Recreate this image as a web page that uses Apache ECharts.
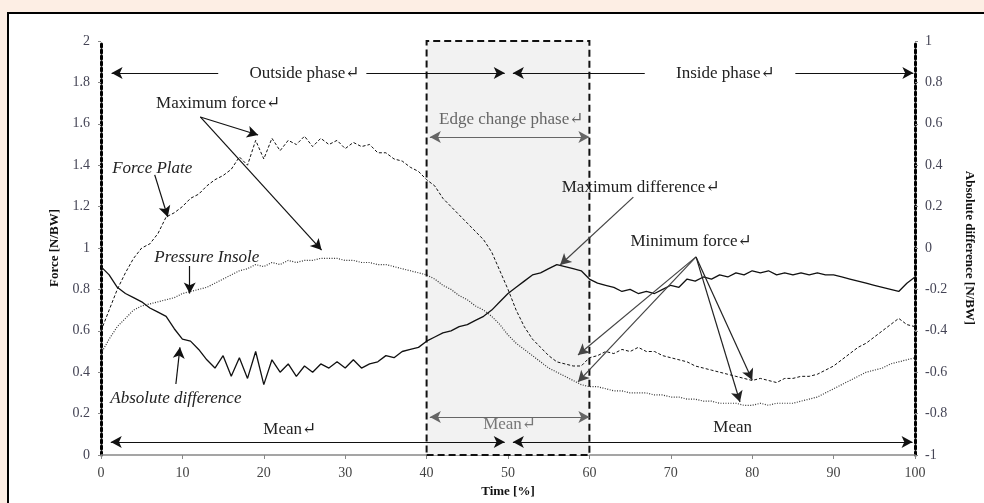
<!DOCTYPE html>
<html><head><meta charset="utf-8">
<script src="https://cdn.jsdelivr.net/npm/echarts@6/dist/echarts.min.js"></script>
<style>html,body{margin:0;padding:0;background:#fdeee4;}#c{width:984px;height:503px;}</style>
</head><body><div id="c"></div>
<script>
// time in % (categories of the x axis)
const time = Array.from({length:101},(_,i)=>i);

// Force Plate [N/BW] (left axis)
const forcePlate = [
 0.60,0.70,0.80,0.88,0.95,1.00,1.02,1.07,1.15,1.17,
 1.20,1.24,1.26,1.30,1.33,1.35,1.38,1.44,1.40,1.52,
 1.43,1.53,1.47,1.52,1.50,1.54,1.49,1.53,1.50,1.52,
 1.48,1.51,1.49,1.50,1.46,1.46,1.43,1.42,1.39,1.37,
 1.33,1.30,1.24,1.20,1.16,1.12,1.08,1.04,0.98,0.89,
 0.80,0.70,0.62,0.56,0.52,0.48,0.45,0.44,0.43,0.43,
 0.47,0.48,0.50,0.49,0.51,0.50,0.52,0.50,0.50,0.48,
 0.47,0.46,0.45,0.43,0.42,0.41,0.40,0.39,0.38,0.37,
 0.36,0.37,0.36,0.35,0.37,0.37,0.38,0.38,0.39,0.41,
 0.43,0.46,0.49,0.52,0.54,0.57,0.60,0.63,0.66,0.63,
 0.62];

// Pressure Insole [N/BW] (left axis)
const pressureInsole = [
 0.49,0.56,0.62,0.66,0.70,0.72,0.73,0.74,0.75,0.76,
 0.78,0.79,0.80,0.81,0.83,0.85,0.87,0.89,0.90,0.92,
 0.91,0.93,0.92,0.94,0.93,0.94,0.94,0.95,0.95,0.95,
 0.94,0.94,0.93,0.93,0.92,0.92,0.91,0.90,0.89,0.88,
 0.87,0.85,0.82,0.80,0.77,0.75,0.72,0.70,0.67,0.63,
 0.58,0.54,0.51,0.48,0.45,0.42,0.40,0.38,0.36,0.34,
 0.33,0.33,0.32,0.31,0.31,0.30,0.30,0.30,0.29,0.29,
 0.28,0.28,0.27,0.27,0.26,0.26,0.25,0.25,0.25,0.24,
 0.24,0.25,0.24,0.25,0.25,0.25,0.26,0.27,0.28,0.30,
 0.32,0.34,0.36,0.38,0.40,0.41,0.42,0.44,0.45,0.46,
 0.47];

// Absolute difference [N/BW] (right axis)
const absDifference = [
 -0.09,-0.13,-0.19,-0.22,-0.24,-0.26,-0.29,-0.31,-0.33,-0.39,
 -0.44,-0.45,-0.49,-0.54,-0.58,-0.52,-0.62,-0.53,-0.63,-0.50,
 -0.66,-0.54,-0.60,-0.56,-0.62,-0.57,-0.60,-0.56,-0.58,-0.55,
 -0.58,-0.54,-0.58,-0.56,-0.55,-0.52,-0.53,-0.50,-0.49,-0.48,
 -0.45,-0.43,-0.41,-0.40,-0.38,-0.37,-0.35,-0.33,-0.30,-0.26,
 -0.22,-0.19,-0.16,-0.13,-0.12,-0.10,-0.08,-0.09,-0.10,-0.11,
 -0.15,-0.17,-0.18,-0.19,-0.21,-0.20,-0.22,-0.21,-0.22,-0.20,
 -0.18,-0.19,-0.15,-0.16,-0.14,-0.15,-0.13,-0.14,-0.12,-0.13,
 -0.11,-0.12,-0.11,-0.13,-0.12,-0.13,-0.12,-0.13,-0.12,-0.13,
 -0.13,-0.14,-0.15,-0.16,-0.17,-0.18,-0.19,-0.20,-0.21,-0.17,
 -0.14];

// annotation arrows in data coordinates: [x1,y1,x2,y2,headAtStart,headAtEnd,color]
const arrows = [
 [14.4,1.845, 1.3,1.845, 0,1,'#111'],
 [32.6,1.845, 49.6,1.845, 0,1,'#111'],
 [66.8,1.845, 50.6,1.845, 0,1,'#111'],
 [85.3,1.845, 99.8,1.845, 0,1,'#111'],
 [40.4,1.536, 60.0,1.536, 1,1,'#666'],
 [12.2,1.633, 19.3,1.546, 0,1,'#111'],
 [12.2,1.633, 27.1,0.99, 0,1,'#111'],
 [6.6,1.353, 8.2,1.15, 0,1,'#111'],
 [10.9,0.913, 10.9,0.78, 0,1,'#111'],
 [9.2,0.343, 9.7,0.52, 0,1,'#111'],
 [65.4,1.246, 56.4,0.918, 0,1,'#444'],
 [73.1,0.957, 58.6,0.483, 0,1,'#444'],
 [73.1,0.957, 58.6,0.353, 0,1,'#444'],
 [73.1,0.957, 80.0,0.362, 0,1,'#222'],
 [73.1,0.957, 78.5,0.256, 0,1,'#222'],
 [1.2,0.063, 49.6,0.063, 1,1,'#111'],
 [50.6,0.063, 99.7,0.063, 1,1,'#111'],
 [40.4,0.184, 60.0,0.184, 1,1,'#666']
];

// annotation texts: [text, x, y, italic, color]
const notes = [
 ['Outside phase\u21b5', 25.0, 1.845, false, '#222'],
 ['Inside phase\u21b5', 76.7, 1.845, false, '#222'],
 ['Edge change phase\u21b5', 50.4, 1.62, false, '#666'],
 ['Maximum force\u21b5', 14.4, 1.70, false, '#222'],
 ['Force Plate', 6.3, 1.386, true, '#222'],
 ['Pressure Insole', 13.0, 0.952, true, '#222'],
 ['Absolute difference', 9.2, 0.275, true, '#222'],
 ['Maximum difference\u21b5', 66.3, 1.29, false, '#222'],
 ['Minimum force\u21b5', 72.5, 1.03, false, '#222'],
 ['Mean\u21b5', 23.2, 0.121, false, '#222'],
 ['Mean\u21b5', 50.2, 0.145, false, '#777'],
 ['Mean', 77.6, 0.135, false, '#222']
];

const SERIF = '"Liberation Serif", "DejaVu Serif", serif';
const chart = echarts.init(document.getElementById('c'));

const arrowLines = arrows.map(a => [
  {coord:[a[0],a[1]], symbol: a[4] ? 'arrow' : 'none', symbolSize:[9,11], lineStyle:{color:a[6]}, itemStyle:{color:a[6]}},
  {coord:[a[2],a[3]], symbol: a[5] ? 'arrow' : 'none', symbolSize:[9,11], lineStyle:{color:a[6]}, itemStyle:{color:a[6]}}
]);

const option = {
  animation:false,
  backgroundColor:'transparent',
  grid:{left:101, right:69, top:41, bottom:48},
  xAxis:{type:'value', min:0, max:100, interval:10,
    name:'Time [%]', nameLocation:'middle', nameGap:30,
    nameTextStyle:{fontFamily:SERIF, fontWeight:'bold', fontSize:13, color:'#111'},
    axisLine:{lineStyle:{color:'#888', width:1.5}},
    axisTick:{length:4, lineStyle:{color:'#888'}},
    axisLabel:{fontFamily:SERIF, fontSize:14, color:'#444', margin:11},
    splitLine:{show:false}},
  yAxis:[
   {type:'value', min:0, max:2, interval:0.2, position:'left',
    name:'Force [N/BW]', nameLocation:'middle', nameGap:34, nameRotate:90,
    nameTextStyle:{fontFamily:SERIF, fontWeight:'bold', fontSize:13, color:'#111'},
    axisLine:{show:true, lineStyle:{color:'#000', width:3, type:'dotted'}},
    axisTick:{show:true, length:3, lineStyle:{color:'#888'}},
    axisLabel:{fontFamily:SERIF, fontSize:14, color:'#445', margin:11},
    splitLine:{show:false}},
   {type:'value', min:-1, max:1, interval:0.2, position:'right',
    name:'Absolute difference [N/BW]', nameLocation:'middle', nameGap:48, nameRotate:-90,
    nameTextStyle:{fontFamily:SERIF, fontWeight:'bold', fontSize:13, color:'#111'},
    axisLine:{show:true, lineStyle:{color:'#000', width:3, type:'dotted'}},
    axisTick:{show:true, length:3, lineStyle:{color:'#888'}},
    axisLabel:{fontFamily:SERIF, fontSize:14, color:'#445', margin:10},
    splitLine:{show:false}}
  ],
  series:[
   {name:'region', type:'line', data:[], z:1, clip:false, silent:true,
    markArea:{silent:true, itemStyle:{color:'#f2f2f2', borderColor:'#111', borderWidth:2, borderType:[7,4]},
      data:[[{coord:[40,0]},{coord:[60,2.02]}]]},
    markLine:{silent:true, symbol:'none', label:{show:false},
      lineStyle:{color:'#222', width:3, type:[2,2]},
      data:[[{coord:[50,0]},{coord:[50,2.02]}]]}},
   {name:'Force Plate', type:'line', yAxisIndex:0, symbol:'none', z:3,
    data: time.map((t,i)=>[t, forcePlate[i]]),
    lineStyle:{color:'#111', width:1, type:[3,2]}},
   {name:'Pressure Insole', type:'line', yAxisIndex:0, symbol:'none', z:3,
    data: time.map((t,i)=>[t, pressureInsole[i]]),
    lineStyle:{color:'#333', width:1.2, type:[1,1.5]}},
   {name:'Absolute difference', type:'line', yAxisIndex:1, symbol:'none', z:3,
    data: time.map((t,i)=>[t, absDifference[i]]),
    lineStyle:{color:'#111', width:1.3}},
   {name:'annotations', type:'line', data:[], z:4, clip:false, silent:true,
    markLine:{silent:true, label:{show:false}, lineStyle:{width:1.2, type:'solid'},
      emphasis:{disabled:true}, data: arrowLines}}
  ]
};
chart.setOption(option);

const gfx = [{type:'rect', z:-10, silent:true, shape:{x:8, y:13, width:1000, height:600},
  style:{fill:'#fff', stroke:'#000', lineWidth:2}}];
notes.forEach(n => {
  const p = chart.convertToPixel({gridIndex:0}, [n[1], n[2]]);
  gfx.push({type:'text', x:p[0], y:p[1], z:100, silent:true,
    style:{text:n[0], fontFamily:SERIF, fontSize:17, fontStyle:n[3]?'italic':'normal',
      fill:n[4], align:'center', verticalAlign:'middle'}});
});
chart.setOption({graphic: gfx});
</script></body></html>
